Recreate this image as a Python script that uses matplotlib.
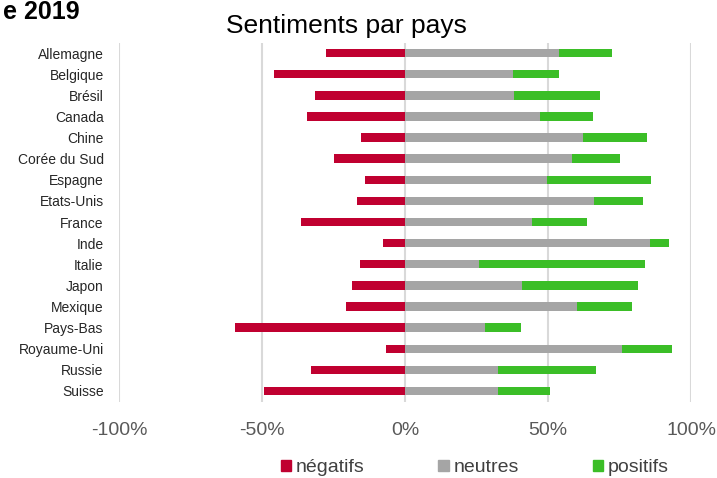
import matplotlib
matplotlib.use("Agg")
import matplotlib.pyplot as plt
from matplotlib.patches import Patch
from matplotlib.ticker import PercentFormatter

plt.rcParams.update({"font.family": "Liberation Sans", "axes.unicode_minus": False})

pays = ["Allemagne", "Belgique", "Brésil", "Canada", "Chine", "Corée du Sud",
        "Espagne", "Etats-Unis", "France", "Inde", "Italie", "Japon", "Mexique",
        "Pays-Bas", "Royaume-Uni", "Russie", "Suisse"]
negatifs = [27.6, 46.0, 31.6, 34.2, 15.5, 24.9, 14.1, 16.8, 36.4, 7.6, 15.8,
            18.4, 20.6, 59.3, 6.8, 33.0, 49.2]
neutres = [53.7, 37.8, 38.0, 47.2, 62.2, 58.3, 49.7, 66.0, 44.4, 85.5, 25.7,
           40.8, 60.0, 28.0, 75.8, 32.4, 32.4]
positifs = [18.7, 16.0, 30.3, 18.5, 22.3, 16.8, 36.1, 17.1, 19.2, 6.8, 58.2,
            40.7, 19.3, 12.4, 17.4, 34.5, 18.4]

C_NEG, C_NEU, C_POS = "#C00030", "#A5A5A5", "#3BBE27"

fig = plt.figure(figsize=(7.17, 4.78), dpi=100)
ax = fig.add_axes([0.166, 0.160, 0.798, 0.751])

y = list(range(len(pays)))
h = 0.4
ax.barh(y, [-v for v in negatifs], height=h, color=C_NEG, zorder=3)
ax.barh(y, neutres, height=h, color=C_NEU, zorder=3)
ax.barh(y, positifs, left=neutres, height=h, color=C_POS, zorder=3)

ax.set_xlim(-100, 100)
ax.set_ylim(len(pays) - 0.5, -0.5)
ax.set_xticks([-100, -50, 0, 50, 100])
ax.xaxis.set_major_formatter(PercentFormatter(decimals=0))
ax.set_yticks(y)
ax.set_yticklabels(pays)
ax.grid(axis="x", color="#D9D9D9", lw=1.5, zorder=0)
for s in ax.spines.values():
    s.set_visible(False)
ax.tick_params(axis="x", length=0, pad=15, labelsize=14, labelcolor="#595959")
ax.tick_params(axis="y", length=0, pad=11, labelsize=10, labelcolor="#262626")

# titre du graphique + bout du titre de la diapo (coupé à gauche)
fig.text(0.4826, 0.931, "Sentiments par pays", ha="center", va="baseline",
         fontsize=19, color="#000000")
fig.text(0.1116, 0.960, "e 2019", ha="right", va="baseline", fontsize=18,
         fontweight="bold")

handles = [Patch(color=C_NEG), Patch(color=C_NEU), Patch(color=C_POS)]
leg = fig.legend(handles, ["négatifs", "neutres", "positifs"], ncol=3,
                 loc="center", bbox_to_anchor=(0.662, 0.021), frameon=False,
                 fontsize=14, handlelength=0.55, handleheight=0.55,
                 handletextpad=0.22, columnspacing=3.8, borderpad=0)
for t in leg.get_texts():
    t.set_color("#404040")

fig.savefig("out.png", dpi=100)
